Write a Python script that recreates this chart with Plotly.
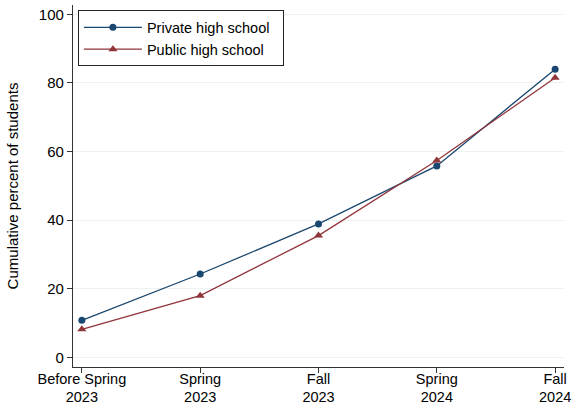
import plotly.graph_objects as go

periods = ["Before Spring<br>2023", "Spring<br>2023", "Fall<br>2023", "Spring<br>2024", "Fall<br>2024"]
private_hs = [10.8, 24.3, 38.9, 55.8, 84.0]
public_hs = [8.2, 18.0, 35.5, 57.4, 81.5]
y_ticks = [0, 20, 40, 60, 80, 100]

navy = "#1a476f"
maroon = "#90353b"
font = "Liberation Sans, Arial, sans-serif"

idx = list(range(len(periods)))
pad = "\u00a0\u00a0"  # a little room at the right of the legend box

fig = go.Figure()
fig.add_trace(go.Scatter(
    x=idx, y=private_hs, mode="lines+markers", name="Private high school" + pad,
    line=dict(color=navy, width=1.3),
    marker=dict(symbol="circle", size=7, color=navy),
))
fig.add_trace(go.Scatter(
    x=idx, y=public_hs, mode="lines+markers", name="Public high school" + pad,
    line=dict(color=maroon, width=1.3),
    marker=dict(symbol="triangle-up", size=8, color=maroon),
))

fig.update_layout(
    width=574, height=407,
    paper_bgcolor="white", plot_bgcolor="white",
    margin=dict(l=73, r=10, t=5, b=40),
    font=dict(family=font, size=15, color="black"),
    showlegend=True,
    legend=dict(
        x=0.01, y=0.985, xanchor="left", yanchor="top",
        bordercolor="#222222", borderwidth=1, bgcolor="white",
        font=dict(size=14.5), itemwidth=58,
    ),
)
fig.update_xaxes(
    range=[-0.075, 4.075], tickvals=idx, ticktext=periods,
    showgrid=False, zeroline=False,
    showline=True, linecolor="#333333", linewidth=1.3,
    ticks="outside", ticklen=5, tickcolor="#333333",
    tickfont=dict(size=14.5),
    ticklabelstandoff=-7, automargin=False,
)
fig.update_yaxes(
    range=[-2.8, 102.7], tickvals=y_ticks,
    showgrid=True, gridcolor="#eaf2f3", gridwidth=1, zeroline=False,
    showline=True, linecolor="#333333", linewidth=1.3,
    ticks="outside", ticklen=5, tickcolor="#333333",
    title=dict(text="Cumulative percent of students", font=dict(size=15), standoff=16),
)

# drop the default body margin so the figure sits at the window's corner
fig.write_html(
    "out.html",
    config={"displayModeBar": False},
    post_script="document.body.style.margin='0';",
)
